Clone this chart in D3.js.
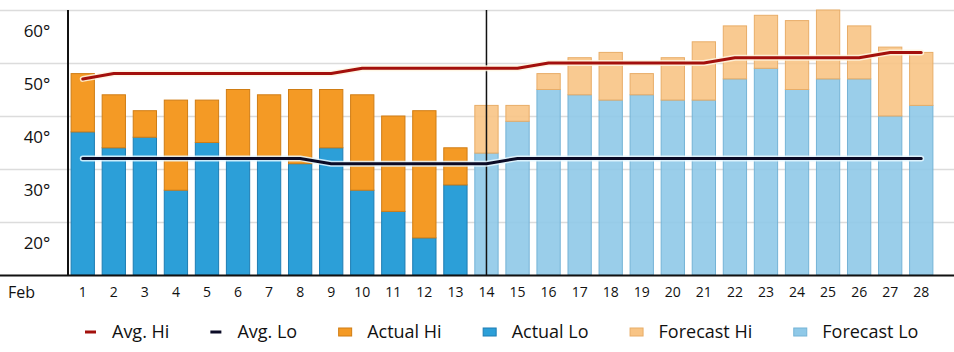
<!DOCTYPE html>
<html>
<head>
<meta charset="utf-8">
<script src="https://cdn.jsdelivr.net/npm/d3@7"></script>
<style>
  html, body { margin: 0; padding: 0; background: #fff; }
  svg { display: block; font-family: "Open Sans", sans-serif; }
</style>
</head>
<body>
<div id="chart"></div>
<script>
const days = d3.range(1, 29);
const todayIndex = 13; // day 14, first forecast day

const actualHi = [48, 44, 41, 43, 43, 45, 44, 45, 45, 44, 40, 41, 34];
const actualLo = [37, 34, 36, 26, 35, 32, 32, 31, 34, 26, 22, 17, 27];
const forecastHi = [42, 42, 48, 51, 52, 48, 51, 54, 57, 59, 58, 60, 57, 53, 52];
const forecastLo = [33, 39, 45, 44, 43, 44, 43, 43, 47, 49, 45, 47, 47, 40, 42];
const avgHi = [47, 48, 48, 48, 48, 48, 48, 48, 48, 49, 49, 49, 49, 49, 49, 50, 50, 50, 50, 50, 50, 51, 51, 51, 51, 51, 52, 52];
const avgLo = [32, 32, 32, 32, 32, 32, 32, 32, 31, 31, 31, 31, 31, 31, 32, 32, 32, 32, 32, 32, 32, 32, 32, 32, 32, 32, 32, 32];
const yTicks = [20, 30, 40, 50, 60];
const legendLabels = ["Avg. Hi", "Avg. Lo", "Actual Hi", "Actual Lo", "Forecast Hi", "Forecast Lo"];

const colors = {
  avgHi: "#a3100c",
  avgLo: "#0b0b26",
  actualHi: "#f49a25",
  actualHiEdge: "#d07d14",
  actualLo: "#2c9fd8",
  actualLoEdge: "#1d7db3",
  forecastHi: "#f8c485",
  forecastHiEdge: "#e8ad68",
  forecastLo: "#8fc9e8",
  forecastLoEdge: "#74b3d6",
};

const width = 954, height = 352;
const plot = { left: 68, right: 936, top: 10, bottom: 275 };

const rows = days.map((day, i) => {
  const forecast = i >= todayIndex;
  return {
    day,
    forecast,
    hi: forecast ? forecastHi[i - todayIndex] : actualHi[i],
    lo: forecast ? forecastLo[i - todayIndex] : actualLo[i],
    avgHi: avgHi[i],
    avgLo: avgLo[i],
  };
});

const svg = d3.select("#chart").append("svg")
  .attr("width", width)
  .attr("height", height);

const x = d3.scaleBand()
  .domain(days)
  .range([plot.left, plot.right])
  .paddingInner(0.25)
  .paddingOuter(0.1);

const y = d3.scaleLinear()
  .domain([10, 60])
  .range([plot.bottom, plot.top]);

// gridlines span the whole width
svg.append("g")
  .selectAll("line")
  .data(yTicks)
  .join("line")
  .attr("x1", 0)
  .attr("x2", width)
  .attr("y1", (d) => y(d) + 0.5)
  .attr("y2", (d) => y(d) + 0.5)
  .attr("stroke", "#dcdcdc")
  .attr("stroke-width", 1.5);

// y tick labels sit just below their gridline
svg.append("g")
  .selectAll("text")
  .data(yTicks)
  .join("text")
  .attr("x", 37)
  .attr("y", (d) => y(d) + 21)
  .attr("dy", "0.35em")
  .attr("text-anchor", "middle")
  .attr("font-size", 17)
  .attr("fill", "#111")
  .text((d) => `${d}°`);

// bars
const bars = svg.append("g");
bars.selectAll("rect.lo")
  .data(rows)
  .join("rect")
  .attr("class", "lo")
  .attr("x", (d) => x(d.day))
  .attr("y", (d) => y(d.lo))
  .attr("width", x.bandwidth())
  .attr("height", (d) => y(10) - y(d.lo))
  .attr("fill", (d) => (d.forecast ? colors.forecastLo : colors.actualLo))
  .attr("fill-opacity", (d) => (d.forecast ? 0.9 : 1))
  .attr("stroke", (d) => (d.forecast ? colors.forecastLoEdge : colors.actualLoEdge))
  .attr("stroke-width", 1);

bars.selectAll("rect.hi")
  .data(rows)
  .join("rect")
  .attr("class", "hi")
  .attr("x", (d) => x(d.day))
  .attr("y", (d) => y(d.hi))
  .attr("width", x.bandwidth())
  .attr("height", (d) => y(d.lo) - y(d.hi))
  .attr("fill", (d) => (d.forecast ? colors.forecastHi : colors.actualHi))
  .attr("fill-opacity", (d) => (d.forecast ? 0.9 : 1))
  .attr("stroke", (d) => (d.forecast ? colors.forecastHiEdge : colors.actualHiEdge))
  .attr("stroke-width", 1);

// axes lines
svg.append("line")
  .attr("x1", 0).attr("x2", width)
  .attr("y1", plot.bottom + 0.5).attr("y2", plot.bottom + 0.5)
  .attr("stroke", "#111").attr("stroke-width", 2);

svg.append("line")
  .attr("x1", plot.left).attr("x2", plot.left)
  .attr("y1", plot.top).attr("y2", plot.bottom)
  .attr("stroke", "#111").attr("stroke-width", 2);

// "today" marker
const todayX = x(days[todayIndex]) + x.bandwidth() / 2;
svg.append("line")
  .attr("x1", todayX).attr("x2", todayX)
  .attr("y1", plot.top).attr("y2", plot.bottom)
  .attr("stroke", "#111").attr("stroke-width", 1.5);

// average lines, with a soft halo
const cx = (d) => x(d.day) + x.bandwidth() / 2;
const hiLine = d3.line().x(cx).y((d) => y(d.avgHi));
const loLine = d3.line().x(cx).y((d) => y(d.avgLo));

[[hiLine, colors.avgHi, "#fff6e0"], [loLine, colors.avgLo, "#e8f8ff"]].forEach(([gen, color, halo]) => {
  svg.append("path")
    .attr("d", gen(rows))
    .attr("fill", "none")
    .attr("stroke", halo)
    .attr("stroke-opacity", 0.85)
    .attr("stroke-width", 6)
    .attr("stroke-linecap", "round")
    .attr("stroke-linejoin", "round");
  svg.append("path")
    .attr("d", gen(rows))
    .attr("fill", "none")
    .attr("stroke", color)
    .attr("stroke-width", 3)
    .attr("stroke-linecap", "round")
    .attr("stroke-linejoin", "round");
});

// x labels
svg.append("text")
  .attr("x", 8)
  .attr("y", 292)
  .attr("dy", "0.35em")
  .attr("font-size", 16)
  .attr("fill", "#111")
  .text("Feb");

svg.append("g")
  .selectAll("text")
  .data(days)
  .join("text")
  .attr("x", (d) => x(d) + x.bandwidth() / 2)
  .attr("y", 292)
  .attr("dy", "0.35em")
  .attr("text-anchor", "middle")
  .attr("font-size", 14)
  .attr("fill", "#111")
  .text((d) => d);

// legend
const legendSwatches = [
  { type: "line", fill: colors.avgHi },
  { type: "line", fill: colors.avgLo },
  { type: "rect", fill: colors.actualHi, edge: colors.actualHiEdge },
  { type: "rect", fill: colors.actualLo, edge: colors.actualLoEdge },
  { type: "rect", fill: colors.forecastHi, edge: colors.forecastHiEdge },
  { type: "rect", fill: colors.forecastLo, edge: colors.forecastLoEdge },
];

const legend = svg.append("g").attr("transform", "translate(0,332)");
let lx = 85;
legendLabels.forEach((label, i) => {
  const sw = legendSwatches[i];
  const item = legend.append("g").attr("transform", `translate(${lx},0)`);
  if (sw.type === "line") {
    item.append("rect")
      .attr("x", 0).attr("y", -1.5)
      .attr("width", 11).attr("height", 3)
      .attr("fill", sw.fill);
  } else {
    item.append("rect")
      .attr("x", 0.5).attr("y", -4)
      .attr("width", 13).attr("height", 8)
      .attr("fill", sw.fill)
      .attr("stroke", sw.edge);
  }
  const t = item.append("text")
    .attr("x", sw.type === "line" ? 27 : 29)
    .attr("dy", "0.35em")
    .attr("font-size", 18)
    .attr("fill", "#111")
    .text(label);
  lx += (sw.type === "line" ? 27 : 29) + t.node().getComputedTextLength() + 41;
});
</script>
</body>
</html>
